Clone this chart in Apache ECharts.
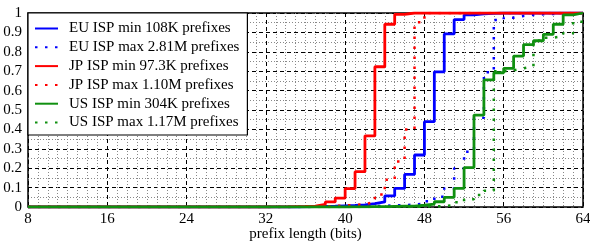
<!DOCTYPE html>
<html>
<head>
<meta charset="utf-8">
<script src="https://cdn.jsdelivr.net/npm/echarts@6/dist/echarts.min.js"></script>
<style>
  html, body { margin: 0; padding: 0; background: #fff; }
  #chart { width: 590px; height: 241px; }
</style>
</head>
<body>
<div id="chart"></div>
<script>
// prefix length (bits): 8, then 32..64
const bits = [8, 32, 33, 34, 35, 36, 37, 38, 39, 40, 41, 42, 43, 44, 45, 46, 47, 48,
  49, 50, 51, 52, 53, 54, 55, 56, 57, 58, 59, 60, 61, 62, 63, 64];

// cumulative fraction of prefixes
const euMin = [0, 0, 0, 0, 0.001, 0.002, 0.003, 0.004, 0.006, 0.008, 0.011, 0.017, 0.027,
  0.057, 0.096, 0.168, 0.268, 0.44, 0.697, 0.892, 0.966, 0.99, 0.995, 0.998,
  1, 1, 1, 1, 1, 1, 1, 1, 1, 1];
const euMax = [0, 0, 0, 0, 0, 0.001, 0.001, 0.002, 0.002, 0.003, 0.004, 0.005, 0.006,
  0.008, 0.01, 0.012, 0.018, 0.03, 0.053, 0.096, 0.2, 0.285, 0.46, 0.695,
  0.964, 0.976, 0.985, 0.99, 0.993, 0.995, 0.997, 0.999, 1, 1];
const jpMin = [0, 0.001, 0.001, 0.002, 0.003, 0.005, 0.013, 0.026, 0.046, 0.095, 0.182,
  0.367, 0.723, 0.942, 0.993, 1, 1, 1, 1, 1, 1, 1, 1, 1, 1, 1, 1, 1, 1, 1, 1, 1, 1, 1];
const jpMax = [0, 0, 0, 0.001, 0.001, 0.002, 0.003, 0.005, 0.008, 0.011, 0.015, 0.025,
  0.064, 0.14, 0.235, 0.4, 0.952, 1, 1, 1, 1, 1, 1, 1, 1, 1, 1, 1, 1, 1, 1, 1, 1, 1];
const usMin = [0, 0, 0, 0, 0, 0, 0, 0, 0, 0.001, 0.001, 0.002, 0.002, 0.003, 0.004,
  0.005, 0.009, 0.015, 0.027, 0.05, 0.096, 0.203, 0.474, 0.655, 0.692, 0.715,
  0.778, 0.837, 0.857, 0.89, 0.942, 0.99, 1, 1];
const usMax = [0, 0, 0, 0, 0, 0, 0, 0, 0, 0, 0, 0, 0, 0, 0, 0.001, 0.002, 0.003,
  0.005, 0.01, 0.024, 0.04, 0.062, 0.084, 0.7, 0.705, 0.715, 0.725, 0.858,
  0.873, 0.88, 0.895, 0.955, 0.955];

const xTicks = [8, 16, 24, 32, 40, 48, 56, 64];

const names = ['EU ISP min 108K prefixes', 'EU ISP max 2.81M prefixes',
  'JP ISP min 97.3K prefixes', 'JP ISP max 1.10M prefixes',
  'US ISP min 304K prefixes', 'US ISP max 1.17M prefixes'];
const colors = ['#0000ff', '#0000ff', '#ff0000', '#ff0000', '#109010', '#109010'];
const values = [euMin, euMax, jpMin, jpMax, usMin, usMax];

const font = 'Liberation Serif';

let chartDom = document.getElementById('chart');
let myChart = echarts.init(chartDom);

let series = values.map(function (vals, i) {
  let dotted = i % 2 === 1;
  return {
    name: names[i],
    type: 'line',
    step: 'end',
    symbol: 'none',
    showSymbol: false,
    animation: false,
    lineStyle: {
      color: colors[i],
      width: dotted ? 2.5 : 2.8,
      type: dotted ? [2.5, 7.5] : 'solid',
      cap: 'butt'
    },
    itemStyle: { color: colors[i] },
    data: bits.map(function (b, k) { return [b, vals[k]]; })
  };
});

let option = {
  animation: false,
  grid: {
    left: 28, right: 7, top: 13, bottom: 34,
    outerBoundsMode: 'none',
    containLabel: false,
    show: true,
    borderColor: '#000',
    borderWidth: 1.5
  },
  legend: {
    data: names,
    orient: 'vertical',
    left: 28,
    top: 13,
    backgroundColor: '#fff',
    borderColor: '#000',
    borderWidth: 1.2,
    padding: [8, 8, 5, 6],
    itemWidth: 23,
    itemHeight: 14,
    itemGap: 3.8,
    itemStyle: { opacity: 0 },
    textStyle: { fontFamily: font, fontSize: 15, color: '#000', padding: [0, 0, 0, 6] }
  },
  xAxis: {
    type: 'value',
    min: 8, max: 64, interval: 8,
    name: 'prefix length (bits)',
    nameLocation: 'middle',
    nameGap: 20,
    nameMoveOverlap: false,
    nameTextStyle: { fontFamily: font, fontSize: 15, color: '#000' },
    axisLine: { show: false },
    axisTick: { show: false },
    axisLabel: {
      fontFamily: font, fontSize: 15, color: '#000', margin: 5,
      formatter: function (v) { return xTicks.indexOf(v) >= 0 ? String(v) : ''; }
    },
    splitLine: { show: true, lineStyle: { color: '#000', width: 1, type: [4, 3] } },
    minorTick: { show: false, splitNumber: 8 },
    minorSplitLine: { show: true, lineStyle: { color: '#888', width: 1, type: [1, 2] } }
  },
  yAxis: {
    type: 'value',
    min: 0, max: 1, interval: 0.1,
    axisLine: { show: false },
    axisTick: { show: false },
    axisLabel: { fontFamily: font, fontSize: 15, color: '#000', margin: 6 },
    splitLine: { show: true, lineStyle: { color: '#000', width: 1, type: [4, 3] } },
    minorTick: { show: false, splitNumber: 2 },
    minorSplitLine: { show: true, lineStyle: { color: '#888', width: 1, type: [1, 2] } }
  },
  series: series
};

myChart.setOption(option);
</script>
</body>
</html>
